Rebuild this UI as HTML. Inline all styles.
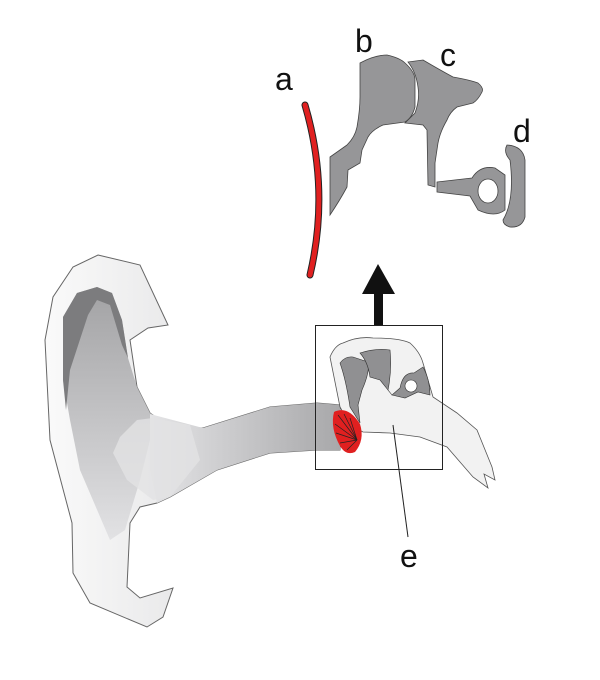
<!DOCTYPE html>
<html><head><style>html,body{margin:0;padding:0;background:#fff}svg{display:block}</style></head><body>
<svg width="600" height="680" viewBox="0 0 600 680" xmlns="http://www.w3.org/2000/svg">
<defs>
<linearGradient id="ear" x1="0" y1="0" x2="1" y2="0">
<stop offset="0" stop-color="#fafafa"/><stop offset="1" stop-color="#d4d4d6"/></linearGradient>
<linearGradient id="canal" x1="0" y1="0" x2="1" y2="0">
<stop offset="0" stop-color="#e4e4e6"/><stop offset="1" stop-color="#a8a8aa"/></linearGradient>
<linearGradient id="concha" x1="0" y1="0" x2="0" y2="1">
<stop offset="0" stop-color="#a2a2a4"/><stop offset="1" stop-color="#e2e2e4"/></linearGradient>
</defs>
<path d="M98,255 L140,265 L168,325 L148,328 L130,340 L137,387 L150,413 L170,427 L203,428 L270,407 L317,403 L340,405 L340,450 L317,450 L270,453 L217,470 L170,497 L157,503 L140,507 L130,523 L127,587 L140,598 L173,588 L163,617 L147,627 L90,603 L73,573 L72,523 L50,440 L45,340 L53,297 L73,267 Z" fill="url(#ear)" stroke="#666" stroke-width="1"/>
<path d="M63,317 L77,293 L97,287 L112,293 L122,320 L128,358 L137,387 L150,413 L170,427 L150,440 L140,480 L125,530 L110,540 L80,470 L70,420 L63,380 Z" fill="url(#concha)"/>
<path d="M63,317 L77,293 L97,287 L112,293 L122,320 L128,358 L122,345 L110,305 L97,300 L88,315 L70,370 L66,410 L63,380 Z" fill="#7c7c7e"/>
<path d="M150,414 L203,428 L270,407 L317,403 L340,405 L340,450 L317,450 L270,453 L217,470 L170,497 L157,503 L150,470 Z" fill="url(#canal)"/>
<path d="M137,420 L153,418 L190,425 L200,460 L170,497 L153,500 L127,480 L113,453 L120,437 Z" fill="#e2e2e4" opacity="0.8"/>
<path d="M330,357 Q335,345 343,343 Q358,336 373,338 Q400,338 410,343 Q420,352 423,363 L433,397 L457,413 L477,430 L492,467 L495,480 L484,474 L488,488 L473,477 L447,447 L420,437 L390,433 L363,432 L350,425 L340,407 Z" fill="#f2f2f2" stroke="#555" stroke-width="0.8"/>
<path d="M340,363 Q345,356 353,357 L368,362 Q370,372 362,390 L358,405 L360,423 L350,407 Q346,380 340,363 Z" fill="#909092" stroke="#333" stroke-width="0.6"/>
<path d="M360,353 Q375,348 390,350 Q392,370 388,390 L392,395 L380,380 L370,377 Q368,362 360,353 Z" fill="#909092" stroke="#333" stroke-width="0.6"/>
<path d="M392,395 L400,388 Q403,372 414,373 L423,367 Q430,380 430,395 L418,392 L405,398 Z" fill="#909092" stroke="#333" stroke-width="0.6"/>
<circle cx="411" cy="386" r="6" fill="#fff" stroke="#333" stroke-width="0.6"/>
<path d="M334,412 Q348,405 360,424 Q365,440 355,452 Q346,456 340,446 Q330,428 334,412 Z" fill="#e02020"/>
<g stroke="#222" stroke-width="0.7"><line x1="357" y1="440" x2="338" y2="415"/><line x1="357" y1="440" x2="335" y2="424"/><line x1="357" y1="440" x2="336" y2="433"/><line x1="357" y1="440" x2="344" y2="414"/><line x1="357" y1="440" x2="350" y2="418"/><line x1="357" y1="440" x2="340" y2="443"/><line x1="357" y1="440" x2="347" y2="450"/></g>
<rect x="315.5" y="325.5" width="127" height="144" fill="none" stroke="#222" stroke-width="1"/>
<line x1="393" y1="425" x2="408" y2="537" stroke="#222" stroke-width="1"/>
<rect x="374" y="290" width="9" height="35" fill="#111"/>
<polygon points="362,294 395,294 378,264" fill="#111"/>
<path d="M305,105 Q330,190 310,275" fill="none" stroke="#222" stroke-width="7" stroke-linecap="round"/>
<path d="M305,105 Q330,190 310,275" fill="none" stroke="#e02020" stroke-width="5" stroke-linecap="round"/>
<path d="M360,63 Q375,55 387,55 Q400,58 405,63 Q415,72 415,80 L415,107 Q412,118 405,122 L383,125 Q372,130 368,137 L362,150 L360,163 L348,170 L347,187 Q340,200 330,215 L330,157 Q340,150 347,145 Q355,137 357,127 Q360,110 360,97 Z" fill="#969698" stroke="#444" stroke-width="0.8"/>
<path d="M408,62 L423,60 Q440,70 453,77 Q470,80 478,83 Q484,88 482,92 Q478,100 473,103 L457,107 Q450,112 447,120 Q440,132 438,143 L435,163 L435,187 L428,185 L427,130 L423,125 L405,123 L415,113 Q420,100 418,87 Q416,72 408,62 Z" fill="#969698" stroke="#444" stroke-width="0.8"/>
<path d="M437,182 L472,178 Q480,165 495,168 L505,175 L505,210 Q495,218 478,210 L470,196 L437,192 Z" fill="#969698" stroke="#444" stroke-width="0.8"/>
<ellipse cx="488" cy="191" rx="10" ry="12" fill="#fff" stroke="#444" stroke-width="0.8"/>
<path d="M507,145 Q523,146 525,160 L525,217 Q522,228 510,227 Q503,225 503,220 Q515,200 510,160 Q503,152 507,145 Z" fill="#969698" stroke="#444" stroke-width="0.8"/>
<g font-family="Liberation Sans, sans-serif" font-size="32" fill="#111">
<text x="275" y="90">a</text><text x="355" y="52">b</text><text x="440" y="66">c</text><text x="513" y="142">d</text><text x="400" y="567">e</text>
</g>
</svg>
</body></html>
